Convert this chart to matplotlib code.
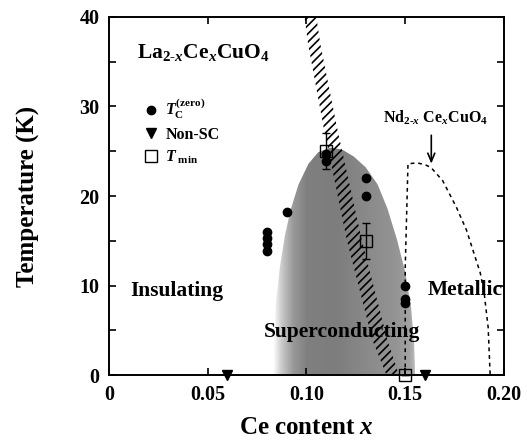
import numpy as np
import matplotlib
matplotlib.use('Agg')
import matplotlib.pyplot as plt
from matplotlib.patches import Polygon
from matplotlib.colors import LinearSegmentedColormap
from matplotlib.lines import Line2D

# ---------------- data ----------------
tc_x = [0.08, 0.08, 0.08, 0.08, 0.09, 0.11, 0.11, 0.13, 0.13, 0.15, 0.15, 0.15]
tc_T = [16.0, 15.3, 14.6, 13.9, 18.2, 24.7, 23.9, 22.0, 20.0, 10.0, 8.5, 8.1]

nonsc_x = [0.06, 0.16]
nonsc_T = [0.0, 0.0]

tmin_x = [0.11, 0.13, 0.15]
tmin_T = [25.0, 15.0, 0.0]
tmin_err = [2.0, 2.0, 0.0]

# superconducting dome boundary (left side bottom->top, right side top->bottom)
dome_left_x = [0.083, 0.0835, 0.0845, 0.0865, 0.089, 0.092, 0.096, 0.101, 0.106, 0.112]
dome_left_T = [0.0, 4.0, 8.0, 12.0, 15.5, 18.5, 21.3, 23.6, 24.9, 25.4]
dome_right_x = [0.118, 0.124, 0.130, 0.136, 0.141, 0.146, 0.150, 0.153, 0.1545, 0.155]
dome_right_T = [25.2, 24.4, 23.2, 21.3, 18.6, 15.0, 11.5, 7.5, 3.5, 0.0]

# horizontal shading of the dome
grad_x = [0.083, 0.087, 0.093, 0.100, 0.115, 0.130, 0.145, 0.152, 0.156]
grad_gray = [1.00, 0.80, 0.60, 0.50, 0.49, 0.54, 0.58, 0.64, 0.78]

# hatched crossover band
band_T = [40.0, 37.0, 27.3, 15.0, 3.9, 0.0]
band_left = [0.0990, 0.1008, 0.1090, 0.1205, 0.1334, 0.1405]
band_right = [0.1050, 0.1070, 0.1158, 0.1281, 0.1410, 0.1468]

# Nd2-xCexCuO4 dome (dashed)
nd_x = [0.150, 0.150, 0.1514, 0.156, 0.160, 0.163, 0.169, 0.176, 0.181, 0.188, 0.190, 0.192, 0.193]
nd_T = [0.0, 12.0, 23.6, 23.7, 23.5, 23.2, 21.7, 18.7, 16.2, 11.4, 9.1, 5.3, 0.0]

xticks = [0, 0.05, 0.10, 0.15, 0.20]
xtick_labels = ['0', '0.05', '0.10', '0.15', '0.20']
yticks = [0, 10, 20, 30, 40]

# ---------------- style ----------------
plt.rcParams['font.family'] = ['Liberation Serif', 'DejaVu Serif']
plt.rcParams['font.weight'] = 'bold'
plt.rcParams['axes.labelweight'] = 'bold'
plt.rcParams['mathtext.fontset'] = 'custom'
plt.rcParams['mathtext.rm'] = 'Liberation Serif:bold'
plt.rcParams['mathtext.it'] = 'Liberation Serif:bold:italic'
plt.rcParams['mathtext.bf'] = 'Liberation Serif:bold'
plt.rcParams['hatch.linewidth'] = 1.2

fig = plt.figure(figsize=(5.27, 4.45), dpi=100)
ax = fig.add_axes([0.2068, 0.1573, 0.7495, 0.8045])

# dome with gradient
dome_x = dome_left_x + dome_right_x
dome_T = dome_left_T + dome_right_T
dome = Polygon(np.column_stack([dome_x, dome_T]), closed=True,
               facecolor='none', edgecolor='none')
ax.add_patch(dome)
gx0, gx1 = grad_x[0], grad_x[-1]
cmap = LinearSegmentedColormap.from_list(
    'dome', [((g - gx0) / (gx1 - gx0), (v, v, v)) for g, v in zip(grad_x, grad_gray)])
xs = np.linspace(gx0, gx1, 500)
im = ax.imshow(xs[None, :], extent=[gx0, gx1, 0, 26], origin='lower',
               aspect='auto', cmap=cmap, vmin=gx0, vmax=gx1,
               interpolation='bilinear', zorder=1)
im.set_clip_path(dome)

# hatched band
band = Polygon(np.column_stack([band_left + band_right[::-1],
                                band_T + band_T[::-1]]),
               closed=True, facecolor='none', edgecolor='black',
               linewidth=0, hatch='////', zorder=2)
ax.add_patch(band)

# Nd dome dashed
ax.plot(nd_x, nd_T, color='black', lw=1.1, linestyle=(0, (2.5, 2.5)), zorder=3)

# data markers
ax.plot(tc_x, tc_T, 'o', color='black', ms=6, zorder=5)
ax.plot(nonsc_x, nonsc_T, 'v', color='black', ms=7.5, clip_on=False, zorder=6)
ax.errorbar(tmin_x, tmin_T, yerr=tmin_err, fmt='s', mfc='none', mec='black',
            mew=1.0, ms=8.5, ecolor='black', elinewidth=1.0, capsize=3,
            clip_on=False, zorder=6)

# legend
handles = [Line2D([], [], marker='o', ls='none', color='black', ms=6),
           Line2D([], [], marker='v', ls='none', color='black', ms=7.5),
           Line2D([], [], marker='s', ls='none', mfc='none', mec='black', mew=1.0, ms=8)]
labels = [r'$T_{\rm C}^{\rm (zero)}$', 'Non-SC', r'$T_{\rm\ min}$']
ax.legend(handles, labels, loc='upper left', bbox_to_anchor=(0.07, 0.80),
          frameon=False, fontsize=11.5, handlelength=0.8, handletextpad=0.5,
          labelspacing=0.35, borderpad=0)

# texts
ax.text(0.0142, 35.4, r'La$_{2\text{-}x}$Ce$_x$CuO$_4$', fontsize=15.5,
        ha='left', va='baseline')
ax.text(0.0106, 9.4, 'Insulating', fontsize=15.5, ha='left', va='center')
ax.text(0.118, 4.8, 'Superconducting', fontsize=15.5, ha='center', va='center', zorder=4)
ax.text(0.1803, 9.5, 'Metallic', fontsize=15.5, ha='center', va='center')
ax.text(0.1655, 28.2, r'Nd$_{2\text{-}x}$ Ce$_x$CuO$_4$', fontsize=11.5,
        ha='center', va='baseline')
ax.annotate('', xy=(0.1632, 23.3), xytext=(0.1632, 27.1),
            arrowprops=dict(arrowstyle='->,head_length=0.6,head_width=0.25',
                            color='black', lw=1.2))

# axes
ax.set_xlim(0, 0.2)
ax.set_ylim(0, 40)
ax.set_xticks(xticks)
ax.set_xticklabels(xtick_labels)
ax.set_yticks(yticks)
ax.set_yticks([5, 15, 25, 35], minor=True)
ax.tick_params(which='both', direction='in', top=True, right=True,
               length=5, width=1.2, labelsize=14.5, pad=7)
for s in ax.spines.values():
    s.set_linewidth(1.4)
ax.set_xlabel(r'Ce content $x$', fontsize=18, fontweight='bold', labelpad=8)
ax.set_ylabel('Temperature (K)', fontsize=18, fontweight='bold', labelpad=28)

fig.savefig('out.png', dpi=100)
